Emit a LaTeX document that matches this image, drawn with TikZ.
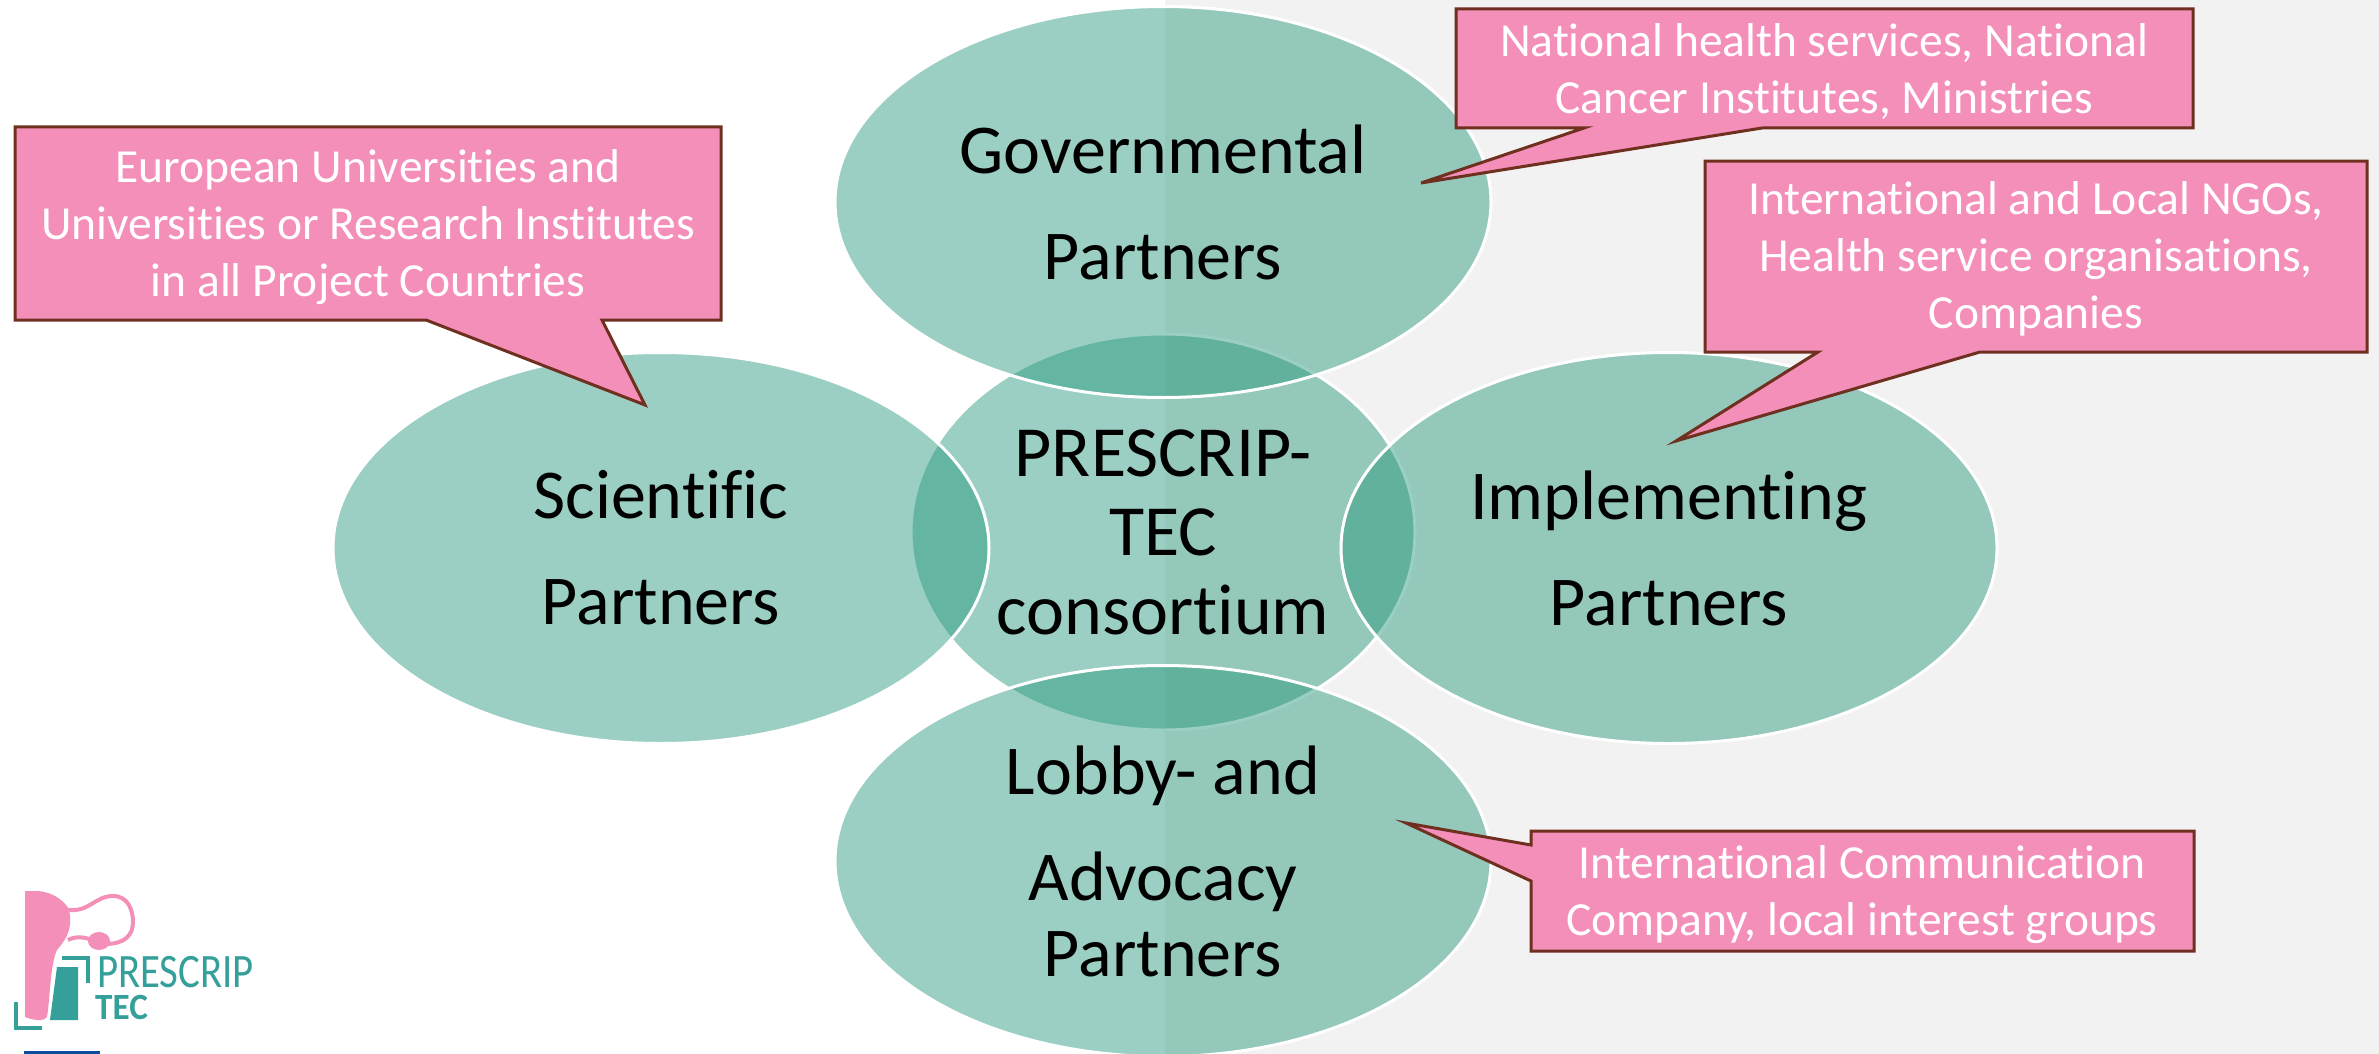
\documentclass[tikz,border=0pt]{standalone}
\usepackage{fontspec}
\setmainfont{Carlito}[Ligatures=CommonOff]
\usetikzlibrary{shapes.geometric}
\definecolor{petal}{RGB}{35,150,122}
\definecolor{pinkbox}{RGB}{244,143,185}
\definecolor{brownline}{RGB}{112,48,32}
\definecolor{logoteal}{RGB}{53,160,154}
\definecolor{logoblue}{RGB}{11,76,156}
\tikzset{
x=1pt, y=-1pt, % one unit is one pixel of the reference
partner/.style={ellipse, draw=white, line width=3pt, fill=petal, fill opacity=.45, text opacity=1, minimum width=656pt, minimum height=391pt, inner sep=0pt, align=center, font=\fontsize{70}{106}\selectfont},
core/.style={partner, minimum width=504pt, minimum height=396pt, font=\fontsize{72}{79}\selectfont},
balloon/.style={draw=brownline, line width=3pt, fill=pinkbox, line join=miter},
balloontext/.style={text=white, align=center, inner sep=0pt, font=\fontsize{47.5}{57}\selectfont},
}
\begin{document}
\begin{tikzpicture}
	\useasboundingbox (0,0) rectangle (2379,1054);
	\clip (0,0) rectangle (2379,1054);
	\fill[white] (0,0) rectangle (1165,1054);
	\fill[black!5] (1165,0) rectangle (2379,1054);
	% the five ellipses, the middle one lies below the others
	\node[core] (consortium) at (1163,532) {PRESCRIP-\\TEC\\consortium};
	\node[partner] (governmental) at (1163,202) {Governmental\\Partners};
	\node[partner] (scientific) at (661,548) {Scientific\\Partners};
	\node[partner] (implementing) at (1669,548) {Implementing\\Partners};
	\node[partner] (lobby) at (1163,861) {Lobby- and\\Advocacy\\[-30pt]Partners};
	% balloons
	\draw[balloon] (15,127) -- (721,127) -- (721,320) -- (602,320) -- (645,405) -- (426,320) -- (15,320) -- cycle;
	\node[balloontext] (science text) at (368,227) {European Universities and\\Universities or Research Institutes\\in all Project Countries};
	\draw[balloon] (1456,9) -- (2193,9) -- (2193,128) -- (1762,128) -- (1421,183) -- (1584,128) -- (1456,128) -- cycle;
	\node[balloontext] (government text) at (1824,72) {National health services, National\\Cancer Institutes, Ministries};
	\draw[balloon] (1705,161) -- (2367,161) -- (2367,352) -- (1980,352) -- (1676,441) -- (1818,352) -- (1705,352) -- cycle;
	\node[balloontext] (implementing text) at (2036,259) {International and Local NGOs,\\Health service organisations,\\Companies};
	\draw[balloon] (1531,831) -- (2194,831) -- (2194,951) -- (1531,951) -- (1531,881) -- (1406,823) -- (1531,845) -- cycle;
	\node[balloontext] (lobby text) at (1862,895) {International Communication\\Company, local interest groups};
	% logo
	\fill[pinkbox] (25,891) -- (37,891) .. controls (53,892) and (63,900) .. (69,909) .. controls (72,925) and (70,935) .. (57,950) .. controls (50,965) and (50,1000) .. (47,1017) .. controls (45,1021) and (35,1021) .. (25,1017) -- cycle;
	\draw[pinkbox, line width=4pt] (68,910) .. controls (90,912) and (95,896) .. (113,896) .. controls (128,896) and (133,910) .. (133,922) .. controls (133,935) and (125,944) .. (105,944);
	\draw[pinkbox, line width=4pt] (68,940) .. controls (75,936) and (85,937) .. (92,940);
	\fill[pinkbox] (99,941) ellipse (11 and 9);
	\fill[logoteal] (57,967) -- (78,967) -- (78,1020) -- (50,1020) -- cycle;
	\draw[logoteal, line width=4pt] (62,958) -- (88,958) -- (88,983);
	\draw[logoteal, line width=4pt] (16,1002) -- (16,1028) -- (42,1028);
	\node[anchor=base west, inner sep=0pt, text=logoteal, xscale=.85, text height=31pt, text depth=0pt, font=\fontsize{48}{48}\selectfont] (logo prescrip) at (97,987) {PRESCRIP};
	\node[anchor=base west, inner sep=0pt, text=logoteal, xscale=.95, text height=24pt, text depth=0pt, font=\fontsize{37}{37}\selectfont\bfseries] (logo tec) at (95,1019) {TEC};
	\fill[logoblue] (24,1051) rectangle (100,1054);
\end{tikzpicture}
\end{document}
